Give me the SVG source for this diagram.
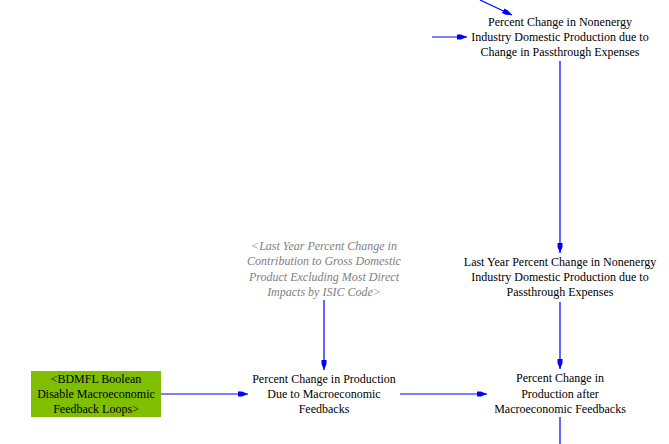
<svg xmlns="http://www.w3.org/2000/svg" width="669" height="444" viewBox="0 0 669 444">
<defs>
<marker id="ah" markerWidth="10" markerHeight="8" refX="10" refY="4" orient="auto" markerUnits="userSpaceOnUse">
<path d="M0,1.5 L4,1.5 L10,4 L4,6.5 L0,6.5 Z" fill="#0000ff"/>
</marker>
<style>
text{font-size:12px;fill:#000;text-anchor:middle}
.g{fill:#808080;font-style:italic}
.c{stroke:#0000ff;stroke-width:1.2;fill:none;marker-end:url(#ah)}
.p{stroke:#0000ff;stroke-width:1.2;fill:none}
</style>
</defs>
<rect width="669" height="444" fill="#fff"/>
<g id="connectors">
<path class="c" d="M480,0 L512,15"/>
<path class="c" d="M432,37 L467,37"/>
<path class="c" d="M560,61 L560,253"/>
<path class="c" d="M560,302 L560,369"/>
<path class="p" d="M560,417 L560,444"/>
<path class="c" d="M324,300 L324,370"/>
<path class="c" d="M161,394 L248,394"/>
<path class="c" d="M400,394 L487,394"/>
</g>
<g font-family="Liberation Serif, Times New Roman, serif">
<g id="node-top">
<text x="560" y="26">Percent Change in Nonenergy</text>
<text x="560" y="41">Industry Domestic Production due to</text>
<text x="560" y="56">Change in Passthrough Expenses</text>
</g>
<g id="node-lastyear">
<text x="560" y="266">Last Year Percent Change in Nonenergy</text>
<text x="560" y="281">Industry Domestic Production due to</text>
<text x="560" y="296">Passthrough Expenses</text>
</g>
<g id="node-after">
<text x="560" y="382">Percent Change in</text>
<text x="560" y="398">Production after</text>
<text x="560" y="413">Macroeconomic Feedbacks</text>
</g>
<g id="node-gdp">
<text class="g" x="324" y="250">&lt;Last Year Percent Change in</text>
<text class="g" x="324" y="265">Contribution to Gross Domestic</text>
<text class="g" x="324" y="281">Product Excluding Most Direct</text>
<text class="g" x="324" y="296">Impacts by ISIC Code&gt;</text>
</g>
<g id="node-due">
<text x="324" y="383">Percent Change in Production</text>
<text x="324" y="398">Due to Macroeconomic</text>
<text x="324" y="413">Feedbacks</text>
</g>
<g id="node-bdmfl">
<rect x="31" y="371" width="130" height="46" fill="#7fbf00"/>
<text x="96" y="383">&lt;BDMFL Boolean</text>
<text x="96" y="398">Disable Macroeconomic</text>
<text x="96" y="413">Feedback Loops&gt;</text>
</g>
</g>
</svg>
